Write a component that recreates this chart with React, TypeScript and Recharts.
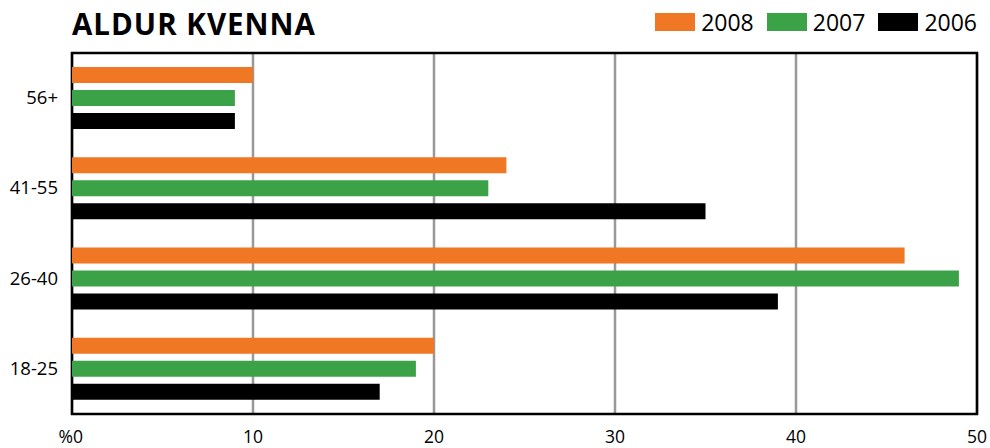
import React from "react";
import { BarChart, Bar, XAxis, YAxis, CartesianGrid, ReferenceArea } from "recharts";

const categories = ["56+", "41-55", "26-40", "18-25"];
const values2008 = [10, 24, 46, 20];
const values2007 = [9, 23, 49, 19];
const values2006 = [9, 35, 39, 17];
const xTicks = [0, 10, 20, 30, 40, 50];

const series = [
  { key: "y2008", name: "2008", color: "#f07723" },
  { key: "y2007", name: "2007", color: "#3ba247" },
  { key: "y2006", name: "2006", color: "#000000" },
];

const data = categories.map((cat, i) => ({
  cat,
  y2008: values2008[i],
  y2007: values2007[i],
  y2006: values2006[i],
}));

const FONT = "'Open Sans', 'Noto Sans', sans-serif";

const XTick = ({ x, payload }: any) => (
  <text
    x={payload.value === 0 ? x + 11 : x}
    y={443}
    textAnchor={payload.value === 0 ? "end" : "middle"}
    fontSize={17.5}
    fontFamily={FONT}
    fill="#000"
  >
    {payload.value === 0 ? "%0" : payload.value}
  </text>
);

const YTick = ({ y, payload }: any) => (
  <text x={58} y={y} dy={6} textAnchor="end" fontSize={18.5} fontFamily={FONT} fill="#000">
    {payload.value}
  </text>
);

export default function App() {
  return (
    <div style={{ position: "absolute", left: 0, top: 0, width: 990, height: 448, background: "#fff" }}>
      <div
        style={{
          position: "absolute",
          left: 72,
          top: 4,
          fontFamily: FONT,
          fontWeight: 700,
          fontSize: 29.5,
          letterSpacing: 1,
          lineHeight: "40px",
          color: "#000",
        }}
      >
        ALDUR KVENNA
      </div>
      <div
        style={{
          position: "absolute",
          right: 13,
          top: 8,
          display: "flex",
          alignItems: "center",
          fontFamily: FONT,
          fontSize: 23,
        }}
      >
        {series.map((s) => (
          <div key={s.key} style={{ display: "flex", alignItems: "center", marginLeft: 13 }}>
            <div style={{ width: 40, height: 18, background: s.color, marginRight: 6 }} />
            <span style={{ lineHeight: "28px" }}>{s.name}</span>
          </div>
        ))}
      </div>
      <BarChart
        width={990}
        height={448}
        data={data}
        layout="vertical"
        margin={{ top: 53, right: 13, bottom: 0, left: 0 }}
        barSize={16}
        barGap={7}
      >
        <CartesianGrid horizontal={false} stroke="#999" strokeWidth={2.5} />
        <XAxis
          type="number"
          domain={[0, 50]}
          ticks={xTicks}
          tick={<XTick />}
          tickLine={false}
          axisLine={false}
          height={34}
        />
        <YAxis
          type="category"
          dataKey="cat"
          width={72}
          tick={<YTick />}
          tickLine={false}
          axisLine={false}
        />
        {series.map((s) => (
          <Bar key={s.key} dataKey={s.key} name={s.name} fill={s.color} isAnimationActive={false} />
        ))}
        <ReferenceArea x1={0} x2={50} fill="none" fillOpacity={0} stroke="#000" strokeWidth={2.5} ifOverflow="visible" />
      </BarChart>
    </div>
  );
}
